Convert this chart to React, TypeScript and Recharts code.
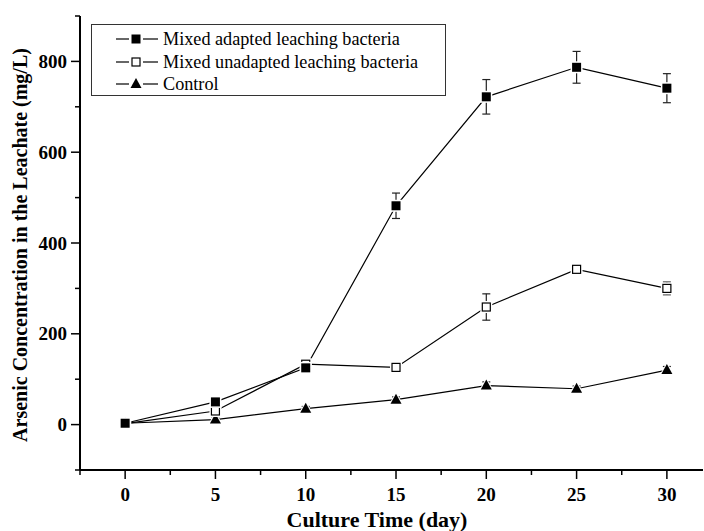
import React from "react";
import { LineChart, Line, XAxis, YAxis, ErrorBar, Label } from "recharts";

// culture time (day)
const days = [0, 5, 10, 15, 20, 25, 30];

// arsenic in leachate (mg/L)
const adapted = [3, 50, 125, 482, 722, 787, 741];
const adaptedErr = [4, 5, 6, 28, 38, 35, 32];
const unadapted = [2, 30, 133, 126, 259, 342, 300];
const unadaptedErr = [3, 4, 5, 6, 29, 3, 14];
const control = [3, 11, 35, 55, 86, 79, 120];
const controlErr = [6, 6, 5, 6, 8, 6, 8];

const xTicks = [-2.5, 0, 2.5, 5, 7.5, 10, 12.5, 15, 17.5, 20, 22.5, 25, 27.5, 30];
const xLabels = [0, 5, 10, 15, 20, 25, 30];
const yTicks = [-100, 0, 100, 200, 300, 400, 500, 600, 700, 800, 900];
const yLabels = [0, 200, 400, 600, 800];

const seriesNames = [
  "Mixed adapted leaching bacteria",
  "Mixed unadapted leaching bacteria",
  "Control",
];

const data = days.map((d, i) => ({
  day: d,
  adapted: adapted[i],
  adaptedErr: adaptedErr[i],
  unadapted: unadapted[i],
  unadaptedErr: unadaptedErr[i],
  control: control[i],
  controlErr: controlErr[i],
}));

const FONT = "'Liberation Serif', 'Times New Roman', serif";

const Marker = ({ kind, cx, cy }: { kind: string; cx: number; cy: number }) => {
  if (kind === "filled") {
    return (
      <g>
        <rect x={cx - 6} y={cy - 6} width={12} height={12} fill="#fff" />
        <rect x={cx - 4.5} y={cy - 4.5} width={9} height={9} fill="#000" />
      </g>
    );
  }
  if (kind === "open") {
    return (
      <g>
        <rect x={cx - 6} y={cy - 6} width={12} height={12} fill="#fff" />
        <rect x={cx - 4} y={cy - 4} width={8} height={8} fill="#fff" stroke="#000" strokeWidth={1.2} />
      </g>
    );
  }
  return (
    <g>
      <path d={`M${cx},${cy - 8} L${cx + 7.5},${cy + 5.5} L${cx - 7.5},${cy + 5.5} Z`} fill="#fff" />
      <path d={`M${cx},${cy - 6} L${cx + 5.5},${cy + 4} L${cx - 5.5},${cy + 4} Z`} fill="#000" />
    </g>
  );
};

const makeDot = (kind: string) => (props: any) => (
  <Marker key={`${kind}-${props.index}`} kind={kind} cx={props.cx} cy={props.cy} />
);

const XTick = ({ x, y, payload }: any) => {
  const major = xLabels.includes(payload.value);
  return (
    <g>
      <line x1={x} y1={y} x2={x} y2={y + (major ? 9 : 5)} stroke="#000" strokeWidth={1.5} />
      {major && (
        <text x={x} y={y + 31} textAnchor="middle" fontFamily={FONT} fontWeight="bold" fontSize={19} fill="#000">
          {payload.value}
        </text>
      )}
    </g>
  );
};

const YTick = ({ x, y, payload }: any) => {
  const major = yLabels.includes(payload.value);
  return (
    <g>
      <line x1={x - (major ? 9 : 5)} y1={y} x2={x} y2={y} stroke="#000" strokeWidth={1.5} />
      {major && (
        <text x={x - 13} y={y + 6.5} textAnchor="end" fontFamily={FONT} fontWeight="bold" fontSize={19} fill="#000">
          {payload.value}
        </text>
      )}
    </g>
  );
};

const legendKinds = ["filled", "open", "triangle"];

export default function App() {
  return (
    <div style={{ position: "absolute", left: 0, top: 0, width: 704, height: 531, background: "#fff" }}>
      <LineChart width={704} height={531} data={data} margin={{ top: 16, right: 1, left: 0, bottom: 0 }}>
        <XAxis
          dataKey="day"
          type="number"
          domain={[-2.5, 32]}
          ticks={xTicks}
          interval={0}
          tickSize={0}
          tickMargin={0}
          tickLine={false}
          tick={<XTick />}
          height={61}
          axisLine={{ stroke: "#000", strokeWidth: 2 }}
        >
          <Label
            content={() => (
              <text x={377} y={527} textAnchor="middle" fontFamily={FONT} fontWeight="bold" fontSize={22} fill="#000">
                Culture Time (day)
              </text>
            )}
          />
        </XAxis>
        <YAxis
          type="number"
          domain={[-100, 900]}
          ticks={yTicks}
          interval={0}
          width={80}
          tickSize={0}
          tickMargin={0}
          tickLine={false}
          tick={<YTick />}
          axisLine={{ stroke: "#000", strokeWidth: 2 }}
        >
          <Label
            content={() => (
              <text
                x={27}
                y={245}
                transform="rotate(-90 27 245)"
                textAnchor="middle"
                fontFamily={FONT}
                fontWeight="bold"
                fontSize={20}
                fill="#000"
              >
                Arsenic Concentration in the Leachate (mg/L)
              </text>
            )}
          />
        </YAxis>
        <Line
          dataKey="control"
          stroke="#000"
          strokeWidth={1.2}
          dot={makeDot("triangle")}
          activeDot={false}
          isAnimationActive={false}
        >
          <ErrorBar dataKey="controlErr" width={4} stroke="#222" strokeWidth={1.2} direction="y" />
        </Line>
        <Line
          dataKey="unadapted"
          stroke="#000"
          strokeWidth={1.2}
          dot={makeDot("open")}
          activeDot={false}
          isAnimationActive={false}
        >
          <ErrorBar dataKey="unadaptedErr" width={4} stroke="#222" strokeWidth={1.2} direction="y" />
        </Line>
        <Line
          dataKey="adapted"
          stroke="#000"
          strokeWidth={1.2}
          dot={makeDot("filled")}
          activeDot={false}
          isAnimationActive={false}
        >
          <ErrorBar dataKey="adaptedErr" width={4} stroke="#222" strokeWidth={1.2} direction="y" />
        </Line>
      </LineChart>

      <div
        style={{
          position: "absolute",
          left: 91,
          top: 24,
          width: 355,
          height: 72,
          boxSizing: "border-box",
          border: "1px solid #333",
          background: "#fff",
        }}
      >
        {seriesNames.map((name, i) => (
          <div
            key={name}
            style={{
              position: "absolute",
              left: 0,
              top: 3 + i * 22.5,
              height: 22,
              display: "flex",
              alignItems: "center",
            }}
          >
            <svg width={70} height={22} style={{ display: "block" }}>
              <line x1={24} y1={11} x2={37} y2={11} stroke="#000" strokeWidth={1.2} />
              <line x1={51} y1={11} x2={66} y2={11} stroke="#000" strokeWidth={1.2} />
              <Marker kind={legendKinds[i]} cx={44} cy={11} />
            </svg>
            <span
              style={{
                fontFamily: FONT,
                fontSize: 18.2,
                lineHeight: "22px",
                color: "#000",
                whiteSpace: "nowrap",
                marginLeft: 1,
              }}
            >
              {name}
            </span>
          </div>
        ))}
      </div>
    </div>
  );
}
